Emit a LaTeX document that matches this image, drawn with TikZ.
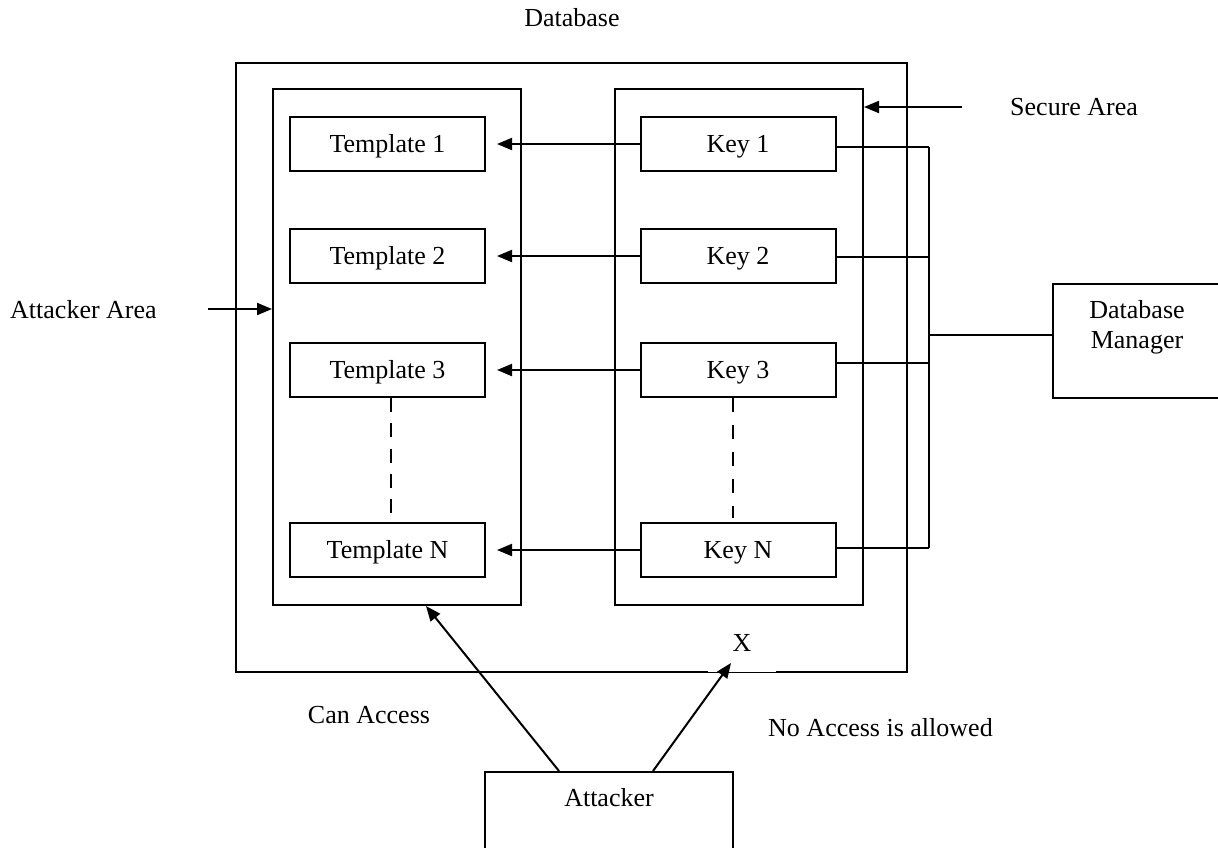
\documentclass[tikz,border=0pt]{standalone}
\usepackage{fontspec}
\setmainfont{Liberation Serif}
\usetikzlibrary{arrows.meta,calc}
\begin{document}
\begin{tikzpicture}[x=1pt,y=-1pt,
  every node/.style={font=\fontsize{26}{30}\selectfont, inner sep=0pt},
  lbl/.style={},
  box/.style={draw, line width=2pt, minimum width=195pt, minimum height=54pt, text height=17pt, text depth=0pt},
  area/.style={draw, line width=2pt, minimum width=248pt, minimum height=516pt},
  frame/.style={draw, line width=2pt},
  link/.style={line width=2pt},
  arr/.style={line width=2pt, -{Triangle[length=15pt,width=12pt]}},
  dashline/.style={line width=2pt, dash pattern=on 14pt off 13pt},
]
\clip (0,0) rectangle (1218,847);
\useasboundingbox (0,0) rectangle (1218,847);

% outer database box
\node[frame, minimum width=671pt, minimum height=609pt] (db) at (571.5,367.5) {};
\node[lbl] (dblbl) at (572,18) {Database};

% areas
\node[area] (attarea) at (397,347) {};
\node[area] (secarea) at (739,347) {};

% templates
\node[box] (t1) at (387.5,144) {Template 1};
\node[box] (t2) at (387.5,256) {Template 2};
\node[box] (t3) at (387.5,370) {Template 3};
\node[box] (tn) at (387.5,550) {Template N};

% keys
\node[box] (k1) at (738,144) {Key 1};
\node[box] (k2) at (738,256) {Key 2};
\node[box] (k3) at (738,370) {Key 3};
\node[box] (kn) at (738,550) {Key N};

% key -> template arrows
\foreach \k/\t in {k1/t1,k2/t2,k3/t3,kn/tn}{
  \draw[arr] (\k.west) -- ([xshift=11pt]\t.east);
}

% dashed continuation
\draw[dashline, dash pattern=on 14pt off 11.3pt] ([xshift=3.5pt]t3.south) -- ([xshift=3.5pt,yshift=8pt]tn.north);
\draw[dashline] ([xshift=-5pt]k3.south) -- ([xshift=-5pt,yshift=4pt]kn.north);

% bus to database manager
\coordinate (bus) at (929,0);
\coordinate (b1) at ([yshift=-3pt]k1.east);
\coordinate (b2) at ([yshift=-1pt]k2.east);
\coordinate (b3) at ([yshift=7pt]k3.east);
\coordinate (bn) at ([yshift=2pt]kn.east);
\draw[link] (b1) -- (b1 -| bus);
\draw[link] (b2) -- (b2 -| bus);
\draw[link] (b3) -- (b3 -| bus);
\draw[link] (bn) -- (bn -| bus);
\draw[link] (b1 -| bus) -- (bn -| bus);

\node[frame, minimum width=250pt, minimum height=114pt, anchor=north west] (dbm) at (1052,283) {};
\node[align=center] (dbmlbl) at (1137,327.5) {Database\\Manager};
\coordinate (bm) at (929,335);
\draw[link] (bm) -- (bm -| dbm.west);

% area labels
\node[anchor=west] (seclbl) at (1010,107) {Secure Area};
\coordinate (secstart) at (962,107);
\draw[arr] (secstart) -- (secstart -| secarea.east);

\node[anchor=west] (attlbl2) at (10,310) {Attacker Area};
\coordinate (attstart) at (208,309);
\draw[arr] (attstart) -- (attstart -| attarea.west);

% attacker
\node[frame, minimum width=248pt, minimum height=130pt, anchor=north] (att) at (609,771) {};
\node (attlbl) at (609,798) {Attacker};

% gap in outer bottom edge
\draw[white, line width=3pt] (708,672) -- (776,672);
\draw[line width=0.5pt] (708,672) -- (776,672);

\coordinate (noacc) at (731,663);
\draw[arr] ([xshift=-50pt]att.north) -- ([xshift=29pt]attarea.south);
\draw[arr] ([xshift=44pt]att.north) -- (noacc);

\node (xmark) at (742,643) {X};
\node (canlbl) at (369,715) {Can Access};
\node[anchor=west] (nolbl) at (768,728) {No Access is allowed};
\end{tikzpicture}
\end{document}
